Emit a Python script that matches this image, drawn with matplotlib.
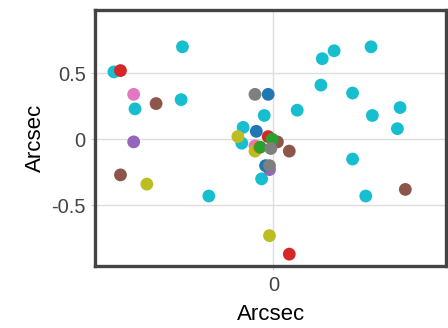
import matplotlib.pyplot as plt

# offsets in arcsec, grouped by source colour
cyan_x = [-0.69, -1.21, -1.05, -0.70, -0.07, -0.23, 0.37, 0.46, 0.74, 0.36, 0.60,
          0.18, 0.75, 0.96, 0.94, -0.24, -0.09, -0.49, 0.60, 0.70]
cyan_y = [0.70, 0.51, 0.23, 0.30, 0.18, 0.09, 0.61, 0.67, 0.70, 0.41, 0.35,
          0.22, 0.18, 0.24, 0.08, -0.03, -0.30, -0.43, -0.15, -0.43]
red_x = [-1.16, -0.04, 0.12]
red_y = [0.52, 0.02, -0.87]
pink_x = [-1.06, -0.14]
pink_y = [0.34, -0.05]
brown_x = [-0.89, -1.16, 0.03, 0.12, 1.00]
brown_y = [0.27, -0.27, -0.02, -0.09, -0.38]
purple_x = [-1.06, -0.03]
purple_y = [-0.02, -0.23]
olive_x = [-0.96, -0.27, -0.14, -0.03]
olive_y = [-0.34, 0.02, -0.09, -0.73]
orange_x = [-0.11]
orange_y = [-0.06]
green_x = [-0.10, -0.01]
green_y = [-0.06, 0.00]
blue_x = [-0.04, -0.13, -0.06]
blue_y = [0.34, 0.06, -0.20]
gray_x = [-0.14, -0.02, -0.03]
gray_y = [0.34, -0.07, -0.20]

groups = [
    (cyan_x, cyan_y, '#17becf'),
    (red_x, red_y, '#d62728'),
    (pink_x, pink_y, '#e377c2'),
    (brown_x, brown_y, '#8c564b'),
    (purple_x, purple_y, '#9467bd'),
    (olive_x, olive_y, '#bcbd22'),
    (orange_x, orange_y, '#ff7f0e'),
    (green_x, green_y, '#2ca02c'),
    (blue_x, blue_y, '#1f77b4'),
    (gray_x, gray_y, '#7f7f7f'),
]

plt.rcParams['font.family'] = ['Liberation Sans', 'DejaVu Sans']

fig = plt.figure(figsize=(4.48, 3.28), dpi=100)
ax = fig.add_axes([0.213, 0.189, 0.783, 0.781])

for gx, gy, c in groups:
    ax.scatter(gx, gy, s=85, color=c, edgecolors='none', zorder=3)

ax.set_xlim(-1.35, 1.31)
ax.set_ylim(-0.96, 0.98)
ax.set_xticks([0])
ax.set_xticklabels(['0'])
ax.set_yticks([-0.5, 0, 0.5])
ax.set_yticklabels(['-0.5', '0', '0.5'])
ax.grid(True, color='#dddddd', linewidth=1, zorder=0)
ax.set_axisbelow(True)

for sp in ax.spines.values():
    sp.set_linewidth(2.4)
    sp.set_color('#444444')

ax.tick_params(length=3, width=0.8, color='#cccccc', labelsize=14.5,
               labelcolor='#444444', pad=4)
ax.set_xlabel('Arcsec', fontsize=16, color='black', labelpad=7)
ax.set_ylabel('Arcsec', fontsize=16, color='black', labelpad=4)

fig.savefig('out.png', dpi=100)
